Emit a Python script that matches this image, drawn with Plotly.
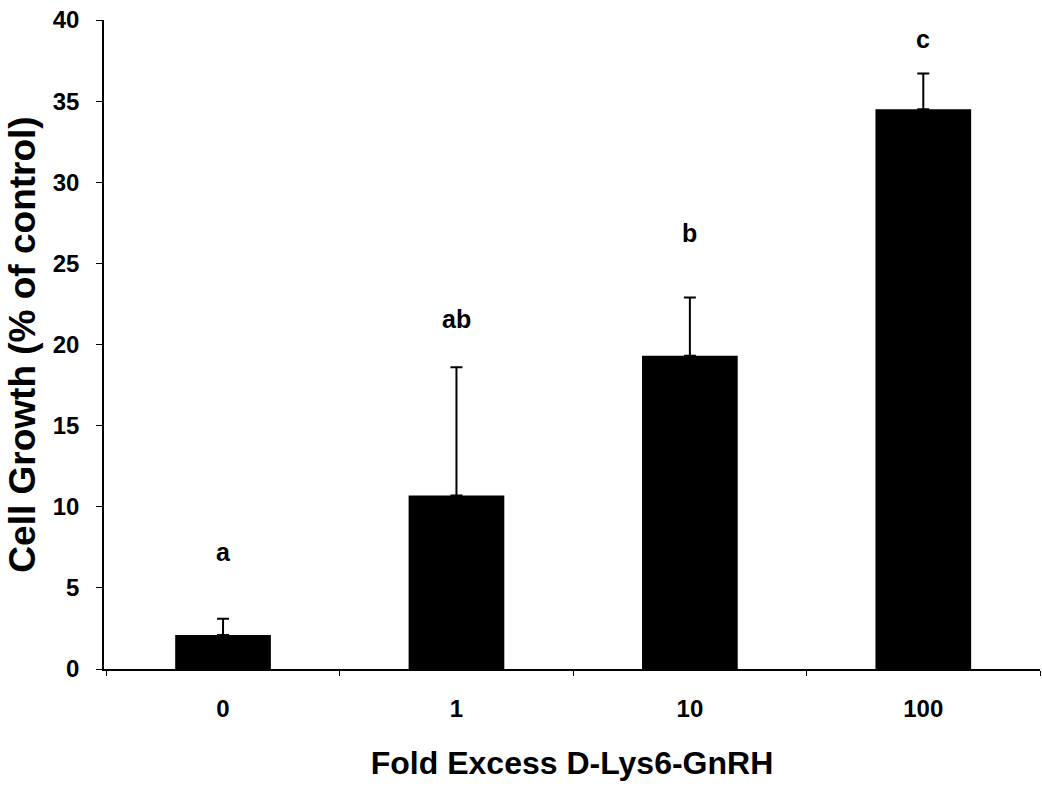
import plotly.graph_objects as go

# Cell growth vs. fold excess of D-Lys6-GnRH
categories = ["0", "1", "10", "100"]
growth = [2.1, 10.7, 19.3, 34.5]
sem = [1.0, 7.9, 3.6, 2.2]
letters = ["a", "ab", "b", "c"]
letter_y = [7.2, 21.6, 26.9, 38.8]

FONT = "Arial, Liberation Sans, sans-serif"

fig = go.Figure()
fig.add_trace(go.Bar(
    x=categories,
    y=growth,
    width=0.41,
    marker=dict(color="black", line=dict(width=0)),
    error_y=dict(type="data", array=sem, arrayminus=[0] * len(sem),
                 symmetric=False, color="black", thickness=2, width=6),
    showlegend=False,
))

# significance letters; category axis annotations are placed by index
for i, (txt, yy) in enumerate(zip(letters, letter_y)):
    fig.add_annotation(x=i, y=yy, xref="x", yref="y", text=f"<b>{txt}</b>",
                       showarrow=False,
                       font=dict(family=FONT, size=25, color="black"))

fig.update_layout(
    width=1042, height=786,
    margin=dict(l=104, r=2, t=20, b=117),
    paper_bgcolor="white", plot_bgcolor="white",
    font=dict(family=FONT, color="black"),
    xaxis=dict(
        type="category", range=[-0.51, 3.5],
        showline=True, linecolor="black", linewidth=1.5,
        ticks="outside", tickson="boundaries", ticklen=5, tickcolor="black",
        tickfont=dict(family=FONT, size=24, color="black", weight="bold"),
        ticklabelstandoff=17,
        title=dict(text="<b>Fold Excess D-Lys6-GnRH</b>",
                   font=dict(family=FONT, size=32, color="black"), standoff=31),
        showgrid=False, zeroline=False,
    ),
    yaxis=dict(
        range=[0, 40], dtick=5,
        showline=True, linecolor="black", linewidth=1.5,
        ticks="outside", ticklen=6, tickcolor="black",
        tickfont=dict(family=FONT, size=24, color="black", weight="bold"),
        ticklabelstandoff=12,
        title=dict(text="<b>Cell Growth (% of control)</b>",
                   font=dict(family=FONT, size=37, color="black"), standoff=6),
        showgrid=False, zeroline=False,
    ),
)

fig.write_html("out.html")
